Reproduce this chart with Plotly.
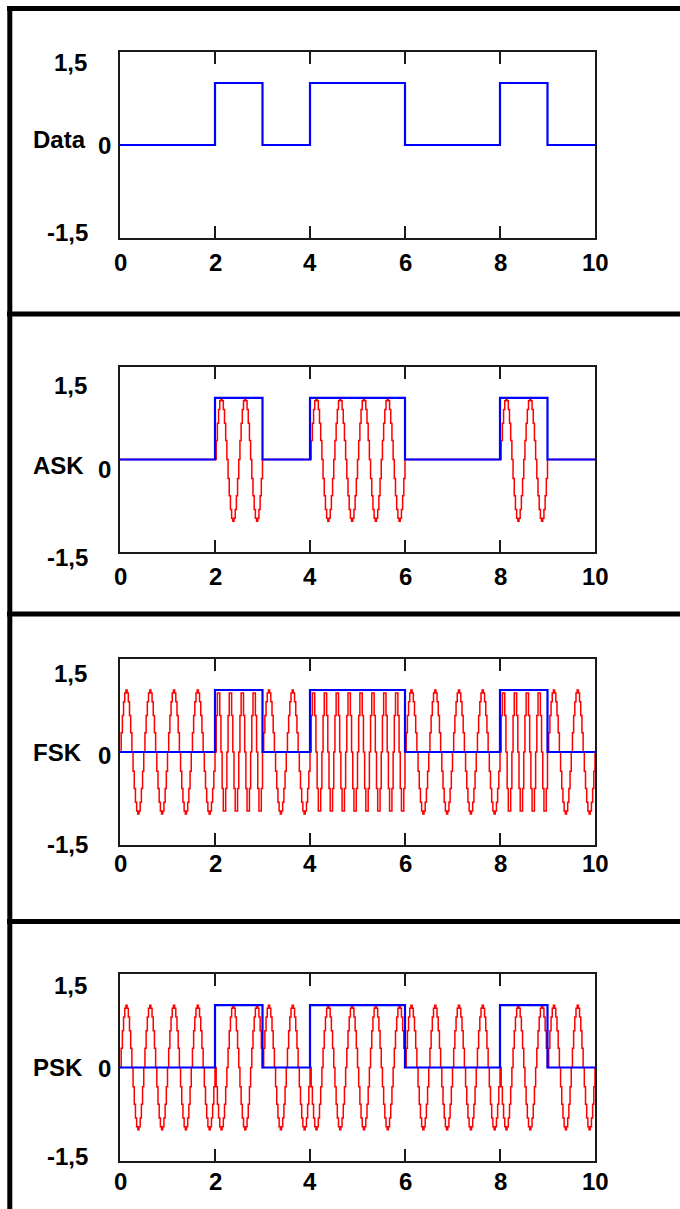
import numpy as np
import plotly.graph_objects as go

# ---- data ----
bits = [0, 0, 1, 0, 1, 1, 0, 0, 1, 0]          # one bit per time unit, t = 0..10
carrier_freq = 2.0                              # carrier cycles per time unit (ASK / PSK / FSK "0")
fsk_freq_one = 4.0                              # FSK frequency for a "1" bit
sample_step = 0.025                             # sampling step of the drawn carrier
panel_names = ["Data", "ASK", "FSK", "PSK"]
x_tick_vals = [0, 2, 4, 6, 8, 10]
x_tick_text = ["0", "2", "4", "6", "8", "10"]
y_tick_text = ["1,5", "0", "-1,5"]

W, H = 680, 1209

# ---- signals ----
t = np.arange(0, 10 + sample_step / 2, sample_step)
bit_idx = np.minimum(np.floor(t + 1e-9).astype(int), len(bits) - 1)
b = np.array(bits)[bit_idx]
ask = b * np.sin(2 * np.pi * carrier_freq * t)
fsk = np.sin(2 * np.pi * np.where(b == 1, fsk_freq_one, carrier_freq) * t)
psk = np.where(b == 1, -1.0, 1.0) * np.sin(2 * np.pi * carrier_freq * t)
mod_signals = {"ASK": ask, "FSK": fsk, "PSK": psk}

bit_t = list(range(len(bits) + 1))
bit_y = bits + [bits[-1]]

# ---- layout geometry (pixels) ----
panel_px = [(52, 238), (367, 552), (659, 845), (974, 1161)]
x_left_px, x_right_px = 120, 595
label_y_px = [  # (1,5 ; name ; 0 ; -1,5 ; x labels)
    (62, 140, 145, 232, 262),
    (385, 466, 469, 557, 577),
    (673, 752, 755, 844, 863),
    (985, 1067, 1068, 1156, 1181),
]

def py(px):
    return 1 - px / H

def px_x(px):
    return px / W

fig = go.Figure()
font = dict(family="Liberation Sans, Arial, sans-serif", size=24, color="#000000")

for i, name in enumerate(panel_names):
    n = i + 1
    xa = "x" if n == 1 else f"x{n}"
    ya = "y" if n == 1 else f"y{n}"
    if name in mod_signals:
        fig.add_trace(go.Scatter(x=t, y=mod_signals[name], mode="lines", line_shape="hv",
                                 line=dict(color="#ff0000", width=1.5),
                                 xaxis=xa, yaxis=ya, showlegend=False, hoverinfo="skip"))
    fig.add_trace(go.Scatter(x=bit_t, y=bit_y, mode="lines", line_shape="hv",
                             line=dict(color="#0000ff", width=2.2),
                             xaxis=xa, yaxis=ya, showlegend=False, hoverinfo="skip"))
    top, bot = panel_px[i]
    fig.layout[f"xaxis{'' if n == 1 else n}"] = dict(
        domain=[px_x(x_left_px), px_x(x_right_px)], range=[0, 10], anchor=ya,
        tickvals=[v for v in x_tick_vals if 0 < v < 10], ticks="inside", ticklen=12,
        tickwidth=2, tickcolor="#1a1a1a", showticklabels=False,
        showline=True, mirror="ticks", linecolor="#1a1a1a", linewidth=2,
        showgrid=False, zeroline=False, fixedrange=True)
    fig.layout[f"yaxis{'' if n == 1 else n}"] = dict(
        domain=[py(bot), py(top)], range=[-1.5, 1.5], anchor=xa,
        ticks="", showticklabels=False,
        showline=True, mirror=True, linecolor="#1a1a1a", linewidth=2,
        showgrid=False, zeroline=False, fixedrange=True)

    l15, lname, l0, lm15, lx = label_y_px[i]
    fig.add_annotation(x=px_x(89), y=py(l15), xref="paper", yref="paper", text=f"<b>{y_tick_text[0]}</b>",
                       xanchor="right", yanchor="middle", showarrow=False, font=font)
    fig.add_annotation(x=px_x(113), y=py(l0), xref="paper", yref="paper", text=f"<b>{y_tick_text[1]}</b>",
                       xanchor="right", yanchor="middle", showarrow=False, font=font)
    fig.add_annotation(x=px_x(90), y=py(lm15), xref="paper", yref="paper", text=f"<b>{y_tick_text[2]}</b>",
                       xanchor="right", yanchor="middle", showarrow=False, font=font)
    fig.add_annotation(x=px_x(31), y=py(lname), xref="paper", yref="paper", text=f"<b>{name}</b>",
                       xanchor="left", yanchor="middle", showarrow=False, font=font)
    for v, txt in zip(x_tick_vals, x_tick_text):
        fig.add_annotation(x=v, y=py(lx), xref=xa, yref="paper", text=f"<b>{txt}</b>",
                           xanchor="center", yanchor="middle", showarrow=False, font=font)

# frame lines
line_style = dict(color="#000000", width=5)
shapes = [
    dict(type="line", xref="paper", yref="paper", x0=px_x(7), x1=1, y0=py(8.5), y1=py(8.5), line=line_style),
    dict(type="line", xref="paper", yref="paper", x0=px_x(9.8), x1=px_x(9.8), y0=py(6), y1=0, line=line_style),
]
for sep in [314, 614, 921.5]:
    shapes.append(dict(type="line", xref="paper", yref="paper", x0=px_x(7), x1=1,
                       y0=py(sep), y1=py(sep), line=line_style))

fig.update_layout(width=W, height=H, margin=dict(l=0, r=0, t=0, b=0),
                  paper_bgcolor="#ffffff", plot_bgcolor="#ffffff", shapes=shapes)

fig.write_html("out.html", config={"displayModeBar": False},
               post_script="document.body.style.margin='0';document.body.style.overflow='hidden';")
